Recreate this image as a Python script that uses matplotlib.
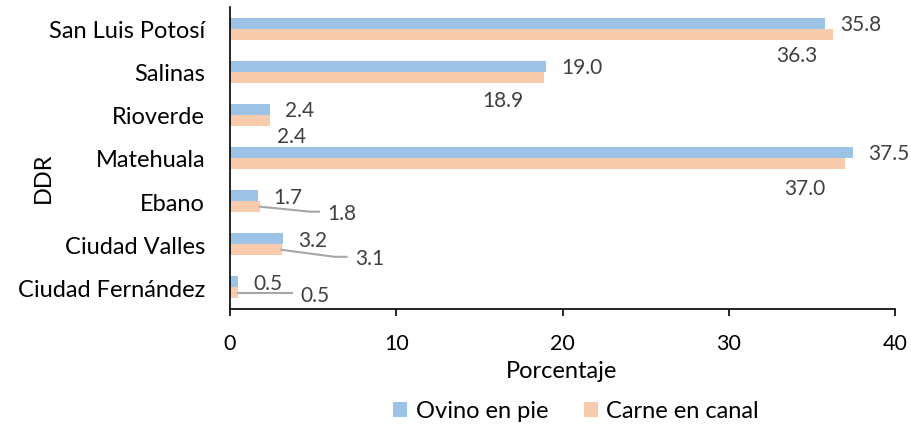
import matplotlib
matplotlib.use("Agg")
import matplotlib.pyplot as plt
import numpy as np
from matplotlib.lines import Line2D
from matplotlib.transforms import IdentityTransform

plt.rcParams['font.family'] = ['Lato', 'DejaVu Sans']

# datos (de abajo hacia arriba)
ddr = ['Ciudad Fernández', 'Ciudad Valles', 'Ebano', 'Matehuala',
       'Rioverde', 'Salinas', 'San Luis Potosí']
ovino_pie = [0.5, 3.2, 1.7, 37.5, 2.4, 19.0, 35.8]
carne_canal = [0.5, 3.1, 1.8, 37.0, 2.4, 18.9, 36.3]

# posicion de etiquetas de carne en canal (pixeles respecto al extremo de la barra)
off_carne = [(77, -2), (88, -8), (82, -6), (-40, -24), (22, -16), (-41, -23), (-37, -21)]
# lineas guia (pixeles respecto al extremo de la barra), None = sin linea
guias = [[(0, 0), (54, 0)], [(0, 0), (53, -7), (65, -7)], [(0, 0), (50, -5), (59, -5)],
         None, None, None, None]

c_ovino = '#9DC3E6'
c_carne = '#F8CBAD'
c_texto = '#404040'

fig = plt.figure(figsize=(9.11, 4.27), dpi=100)
ax = fig.add_axes([230 / 911, 1 - 310 / 427, 665 / 911, 302 / 427])

y = np.arange(len(ddr))
h = 11 / 43
ax.barh(y + h / 2, ovino_pie, height=h, color=c_ovino, label='Ovino en pie')
ax.barh(y - h / 2, carne_canal, height=h, color=c_carne, label='Carne en canal')

ax.set_xlim(0, 40)
ax.set_ylim(-0.5, len(ddr) - 0.5)
ax.set_xticks([0, 10, 20, 30, 40])
ax.set_yticks(y)
ax.set_yticklabels(ddr)

for s in ['top', 'right']:
    ax.spines[s].set_visible(False)
for s in ['left', 'bottom']:
    ax.spines[s].set_linewidth(1.2)
ax.tick_params(axis='y', length=0, pad=18, labelsize=17)
ax.tick_params(axis='x', length=5, width=1.2, pad=12, labelsize=15.5)

# etiquetas de datos
for i in range(len(ddr)):
    ax.annotate('%.1f' % ovino_pie[i], xy=(ovino_pie[i], y[i] + h / 2),
                xytext=(15, -1), textcoords='offset pixels',
                ha='left', va='center', fontsize=15, color=c_texto)
    dx, dy = off_carne[i]
    ax.annotate('%.1f' % carne_canal[i], xy=(carne_canal[i], y[i] - h / 2),
                xytext=(dx, dy), textcoords='offset pixels',
                ha='center', va='center', fontsize=15, color=c_texto)

# lineas guia
for i in range(len(ddr)):
    if guias[i] is None:
        continue
    px, py = ax.transData.transform((carne_canal[i], y[i] - h / 2))
    xs = [px + p[0] for p in guias[i]]
    ys = [py + p[1] for p in guias[i]]
    fig.add_artist(Line2D(xs, ys, transform=IdentityTransform(),
                          color='#A6A6A6', lw=1.5))

fig.text(562 / 911, 1 - 372 / 427, 'Porcentaje', ha='center', va='center', fontsize=17)
fig.text(43 / 911, 1 - 178 / 427, 'DDR', ha='center', va='center',
         rotation=90, fontsize=17)

fig.legend(loc='center', bbox_to_anchor=(576 / 911, 1 - 412 / 427), ncol=2,
           frameon=False, fontsize=17, handlelength=0.6, handleheight=0.6,
           handletextpad=0.35, columnspacing=1.5)

fig.savefig('out.png', dpi=100)
